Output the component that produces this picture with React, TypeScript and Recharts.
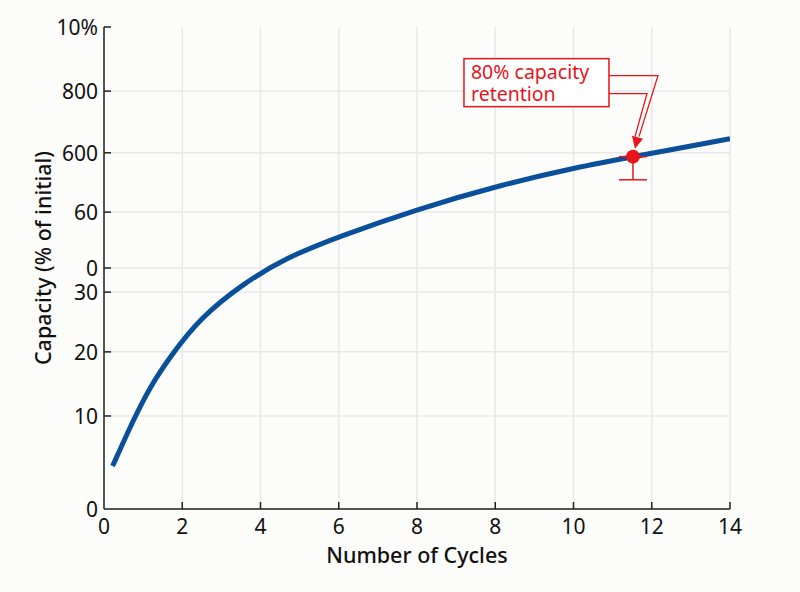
import React from "react"
import {
  CartesianGrid,
  ComposedChart,
  ErrorBar,
  Line,
  ReferenceDot,
  Scatter,
  XAxis,
  YAxis,
} from "recharts"

// curve samples (x on axis scale, y on 0..100 axis scale)
const cycles = [0.22, 0.75, 1.18, 1.69, 2.45, 3.56, 4.67, 5.99, 8.0, 10.12, 12.04, 13.52, 16.0]
const capacity = [8.9, 18.5, 25.4, 31.6, 39.6, 46.8, 52.2, 56.5, 62.2, 67.2, 70.8, 73.1, 76.8]

const xTicks = [0, 2, 4, 6, 8, 10, 12, 14, 16]
const xTickLabels = ["0", "2", "4", "6", "8", "8", "10", "12", "14"]

const yTicks = [0, 19.3, 32.6, 45.0, 50.0, 61.6, 73.9, 86.7, 100]
const yTickLabels = ["0", "10", "20", "30", "0", "60", "600", "800", "10%"]
// no grid line along the top edge
const yGridValues = [0, 19.3, 32.6, 45.0, 50.0, 61.6, 73.9, 86.7]

const markerX = [13.52]
const markerY = [73.1]
const markerErr = [4.8]

const curveData = cycles.map((c, i) => ({ x: c, y: capacity[i] }))
const markerData = markerX.map((m, i) => ({ x: m, y: markerY[i], err: [markerErr[i], 0] }))

const FONT = "'Noto Sans', 'Open Sans', sans-serif"
const RED = "#e8141b"

const XTick = (props: any) => {
  const { x, y, payload } = props
  const idx = xTicks.indexOf(payload.value)
  return (
    <g>
      {idx > 0 && <line x1={x} x2={x} y1={y} y2={y - 7} stroke="#222" strokeWidth={1.5} />}
      <text x={x} y={y + 25} textAnchor="middle" fontSize={21} fill="#111" fontFamily={FONT}>
        {xTickLabels[idx]}
      </text>
    </g>
  )
}

const YTick = (props: any) => {
  const { x, y, payload } = props
  const idx = yTicks.indexOf(payload.value)
  return (
    <g>
      {idx > 0 && <line x1={x} x2={x + 7} y1={y} y2={y} stroke="#222" strokeWidth={1.5} />}
      <text x={x - 6} y={y + 8} textAnchor="end" fontSize={21} fill="#111" fontFamily={FONT}>
        {yTickLabels[idx]}
      </text>
    </g>
  )
}

const Callout = (props: any) => {
  const { cx, cy } = props
  return (
    <g fontFamily={FONT}>
      <rect x={cx - 169} y={cy - 98} width={145} height={48} fill="#fff" stroke={RED} strokeWidth={1.5} />
      <text x={cx - 162} y={cy - 78} fontSize={19.5} fill={RED}>80% capacity</text>
      <text x={cx - 162} y={cy - 56} fontSize={19.5} fill={RED}>retention</text>
      <polyline
        points={`${cx - 24},${cy - 81} ${cx + 25},${cy - 81} ${cx + 6},${cy - 20}`}
        fill="none"
        stroke={RED}
        strokeWidth={1.3}
      />
      <polyline
        points={`${cx - 24},${cy - 63} ${cx + 14},${cy - 63} ${cx + 2},${cy - 20}`}
        fill="none"
        stroke={RED}
        strokeWidth={1.3}
      />
      <polygon points={`${cx - 1},${cy - 21} ${cx + 10},${cy - 18} ${cx + 2},${cy - 8}`} fill={RED} />
    </g>
  )
}

export default function App() {
  return (
    <div style={{ position: "fixed", left: 0, top: 0, width: 800, height: 592, background: "#fcfcfa" }}>
      <ComposedChart width={800} height={592} margin={{ top: 27, right: 70, bottom: 0, left: 0 }}>
        <CartesianGrid stroke="#e8e8e8" strokeWidth={1.5} horizontalValues={yGridValues} />
        <XAxis
          type="number"
          dataKey="x"
          domain={[0, 16]}
          ticks={xTicks}
          interval={0}
          height={83}
          tickSize={0}
          tickMargin={0}
          tick={<XTick />}
          axisLine={{ stroke: "#222", strokeWidth: 1.5 }}
          allowDataOverflow
        />
        <YAxis
          type="number"
          dataKey="y"
          domain={[0, 100]}
          ticks={yTicks}
          interval={0}
          width={104}
          tickSize={0}
          tickMargin={0}
          tick={<YTick />}
          axisLine={{ stroke: "#222", strokeWidth: 1.5 }}
          allowDataOverflow
        />
        <Line
          data={curveData}
          dataKey="y"
          type="basis"
          stroke="#0a4f9a"
          strokeWidth={5}
          dot={false}
          isAnimationActive={false}
        />
        <Scatter data={markerData} dataKey="y" fill={RED} isAnimationActive={false} shape={(p: any) => <circle cx={p.cx} cy={p.cy} r={7} fill={RED} />}>
          <ErrorBar dataKey="err" direction="y" width={14} stroke={RED} strokeWidth={1.5} isAnimationActive={false} />
        </Scatter>
        <ReferenceDot x={markerX[0]} y={markerY[0]} r={0} shape={<Callout />} />
        <text x={417} y={563} textAnchor="middle" fontSize={21.5} fontWeight={500} fill="#111" fontFamily={FONT}>
          Number of Cycles
        </text>
        <text
          x={51}
          y={258}
          textAnchor="middle"
          fontSize={21.5}
          fontWeight={500}
          fill="#111"
          fontFamily={FONT}
          transform="rotate(-90 51 258)"
        >
          Capacity (% of initial)
        </text>
      </ComposedChart>
    </div>
  )
}
